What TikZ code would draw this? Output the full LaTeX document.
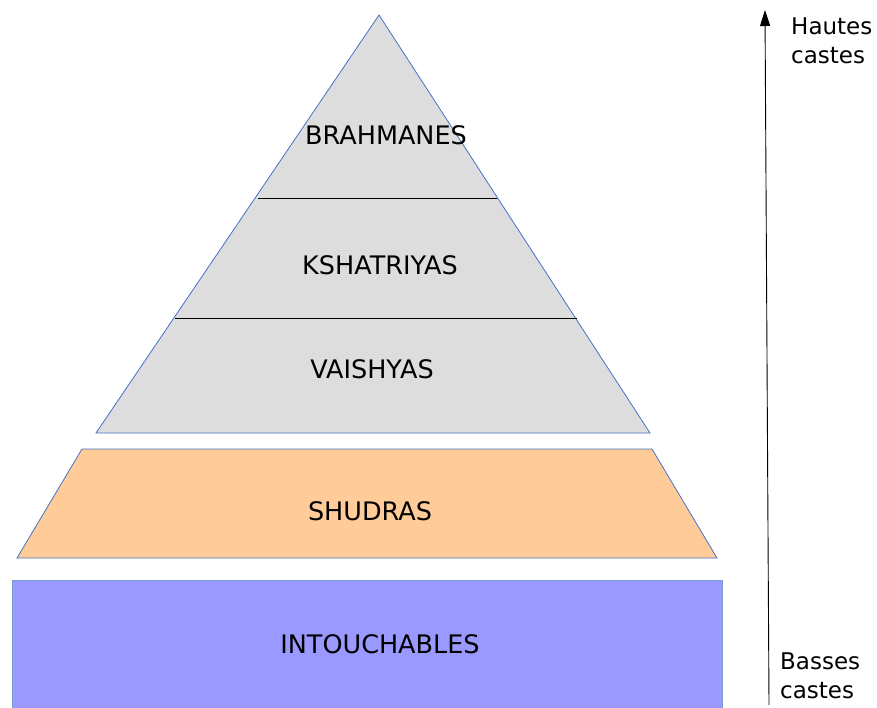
\documentclass[tikz,border=0pt]{standalone}
\usepackage{fontspec}
\setmainfont{DejaVu Sans}
\usetikzlibrary{arrows.meta}
\definecolor{tri}{HTML}{DDDDDD}
\definecolor{edge}{HTML}{4472C4}
\definecolor{sud}{HTML}{FFCC99}
\definecolor{intou}{HTML}{9999FF}
\definecolor{redge}{HTML}{729FCF}
\tikzset{
  lbl/.style={anchor=base, inner sep=0pt, font=\fontsize{25.5}{30}\selectfont},
  side/.style={anchor=base west, inner sep=0pt, align=left, font=\fontsize{23}{28.5}\selectfont},
}
\begin{document}
\begin{tikzpicture}[x=1pt,y=-1pt]
\useasboundingbox (0,0) rectangle (877,707);
% triangle
\fill[tri] (379,15) -- (650,433) -- (96,433) -- cycle;
\draw[edge, line width=0.8pt] (379,15) -- (650,433) -- (96,433) -- cycle;
\draw[black, line width=0.9pt] (258,198) -- (497,198);
\draw[black, line width=0.9pt] (175,318) -- (577,318);
% trapezoid
\draw[edge, line width=0.8pt, fill=sud] (82,449) -- (652,449) -- (717,558) -- (17,558) -- cycle;
% rectangle
\draw[redge, line width=1pt, fill=intou] (12,710) -- (12,580) -- (722,580) -- (722,710);
% labels
\node[lbl] (b) at (386,144) {BRAHMANES};
\node[lbl] (k) at (380,274) {KSHATRIYAS};
\node[lbl] (v) at (372,378) {VAISHYAS};
\node[lbl] (s) at (370,520) {SHUDRAS};
\node[lbl] (i) at (380,653) {INTOUCHABLES};
% arrow
\coordinate (lo) at (769,705);
\coordinate (hi) at (765,10);
\draw[line width=0.9pt, -{Triangle[length=16pt,width=10pt]}] (lo) -- (hi);
\node[side] (h) at (791,63) {Hautes\\castes};
\node[side] (bc) at (780,698) {Basses\\castes};
\end{tikzpicture}
\end{document}
